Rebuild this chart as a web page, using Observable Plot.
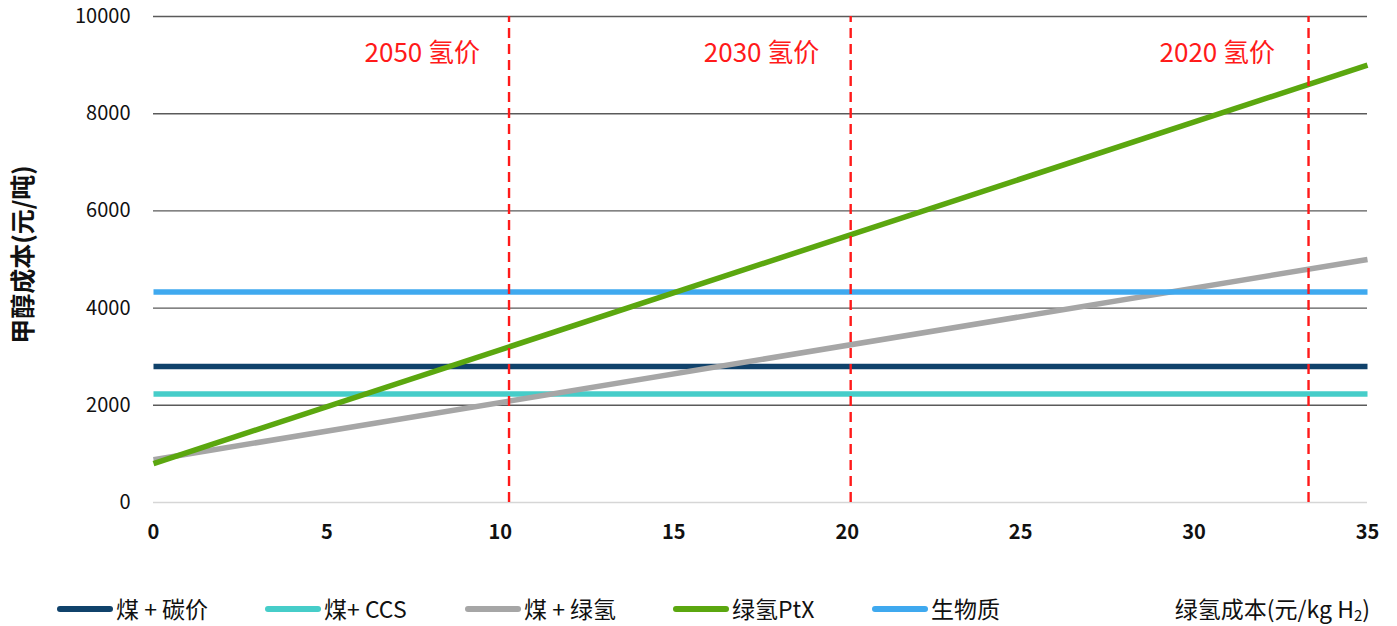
<!DOCTYPE html>
<html>
<head>
<meta charset="utf-8">
<script src="https://cdn.jsdelivr.net/npm/d3@7"></script>
<script src="https://cdn.jsdelivr.net/npm/@observablehq/plot@0.6"></script>
<style>
  html, body { margin: 0; padding: 0; background: #fff; }
  body { width: 1397px; height: 626px; overflow: hidden; font-family: "Noto Sans CJK SC", "Noto Sans", sans-serif; }
  #legend { position: relative; width: 1397px; height: 46px; color: #111; font-size: 23px; }
  .sw { position: absolute; top: 26px; height: 6px; border-radius: 3px; }
  .lt { position: absolute; top: 13px; line-height: 30px; white-space: nowrap; }
</style>
</head>
<body>
<div id="chart"></div>
<div id="legend"></div>
<script>
// ---- data ----
const seriesNames = ["煤 + 碳价", "煤+ CCS", "煤 + 绿氢", "绿氢PtX", "生物质"];
const seriesColors = ["#10426b", "#46cdc9", "#a6a6a6", "#5ba70f", "#3fa9ef"];
const h2Cost = [0, 35];                 // x: 绿氢成本 (元/kg H2)
const coalCarbon = [2800, 2800];
const coalCCS = [2230, 2230];
const coalGreenH2 = [880, 5000];
const greenPtX = [800, 9000];
const biomass = [4330, 4330];
const seriesValues = [coalCarbon, coalCCS, coalGreenH2, greenPtX, biomass];
const drawOrder = [0, 1, 2, 4, 3];

const yTicks = [0, 2000, 4000, 6000, 8000, 10000];
const xTicks = [0, 5, 10, 15, 20, 25, 30, 35];

const markerX = [10.25, 20.1, 33.3];
const markerLabels = ["2050 氢价", "2030 氢价", "2020 氢价"];
const markerLabelX = [7.75, 17.53, 30.67];
const markerLabelY = 9230;

const yTitle = "甲醇成本(元/吨)";

// ---- build rows ----
const rows = [];
drawOrder.forEach(i => {
  h2Cost.forEach((x, j) => rows.push({series: seriesNames[i], order: i, x, y: seriesValues[i][j]}));
});
const labels = markerLabels.map((t, i) => ({t, x: markerLabelX[i], y: markerLabelY}));

const font = '"Noto Sans CJK SC", "Noto Sans", sans-serif';

const chart = Plot.plot({
  width: 1397,
  height: 580,
  marginLeft: 153,
  marginRight: 30,
  marginTop: 16,
  marginBottom: 78,
  style: {fontFamily: font, background: "#fff", color: "#111"},
  x: {domain: [0, 35], ticks: xTicks},
  y: {domain: [0, 10000], ticks: yTicks},
  color: {domain: seriesNames, range: seriesColors},
  marks: [
    Plot.ruleY(yTicks.filter(d => d !== 0), {stroke: "#5a5a5a", strokeWidth: 1.4}),
    Plot.ruleY([0], {stroke: "#d6d6d6", strokeWidth: 1.4}),
    ...drawOrder.map(i => Plot.line(rows.filter(r => r.order === i), {
      x: "x", y: "y", stroke: seriesColors[i], strokeWidth: 5.5, strokeLinecap: "butt"
    })),
    Plot.ruleX(markerX, {y1: 0, y2: 10000, stroke: "#ff1a1a", strokeWidth: 2.4, strokeDasharray: "10,6"}),
    Plot.text(labels, {x: "x", y: "y", text: "t", fill: "#ff1a1a", fontSize: 26, textAnchor: "middle"}),
    Plot.axisY({ticks: yTicks, tickSize: 0, tickPadding: 23, fontSize: 20, label: null, tickFormat: d => String(d)}),
    Plot.axisX({ticks: xTicks, tickSize: 0, tickPadding: 22, fontSize: 20, fontWeight: "bold", label: null}),
    Plot.text([yTitle], {frameAnchor: "left", textAnchor: "middle", dx: -130, dy: -5, rotate: -90, fontSize: 25, fontWeight: "bold", fill: "#111"})
  ]
});
document.getElementById("chart").appendChild(chart);

// ---- legend ----
const legend = document.getElementById("legend");
const swLeft = [57, 265, 465, 673, 872];
const swWidth = 56;
seriesNames.forEach((name, i) => {
  const sw = document.createElement("div");
  sw.className = "sw";
  sw.style.left = swLeft[i] + "px";
  sw.style.width = swWidth + "px";
  sw.style.background = seriesColors[i];
  legend.appendChild(sw);
  const t = document.createElement("div");
  t.className = "lt";
  t.style.left = (swLeft[i] + swWidth + 3) + "px";
  t.textContent = name;
  legend.appendChild(t);
});
const xt = document.createElement("div");
xt.className = "lt";
xt.style.right = (1397 - 1370) + "px";
xt.innerHTML = "绿氢成本(元/kg H<sub style='font-size:15px;vertical-align:-3px'>2</sub>)";
legend.appendChild(xt);
</script>
</body>
</html>
